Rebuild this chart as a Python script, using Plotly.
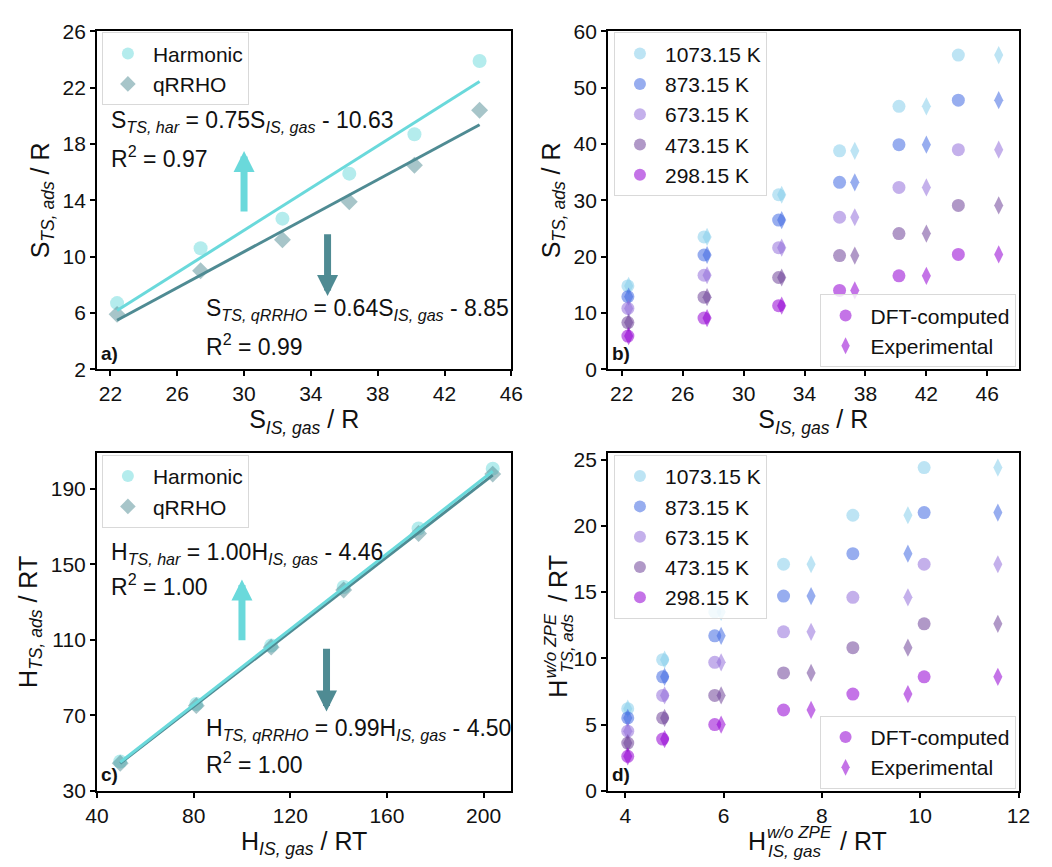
import plotly.graph_objects as go

# ---------------- data ----------------
# panel a
s_is_gas = [22.4, 27.4, 32.3, 36.3, 40.2, 44.1]
s_ts_har = [6.7, 10.6, 12.7, 15.9, 18.7, 23.9]
s_ts_qrrho = [5.9, 9.0, 11.2, 13.9, 16.5, 20.4]
s_har_fit = (0.75, -10.63)
s_qrrho_fit = (0.64, -8.85)

# panel b
temps = ["1073.15 K", "873.15 K", "673.15 K", "473.15 K", "298.15 K"]
b_x_dft = [22.4, 27.4, 32.3, 36.3, 40.2, 44.1]
b_x_exp = [22.45, 27.6, 32.5, 37.3, 42.0, 46.75]
b_y = {
    "1073.15 K": [14.8, 23.5, 31.0, 38.8, 46.7, 55.8],
    "873.15 K": [12.9, 20.3, 26.5, 33.2, 39.9, 47.8],
    "673.15 K": [10.8, 16.7, 21.6, 27.0, 32.3, 39.0],
    "473.15 K": [8.3, 12.8, 16.3, 20.2, 24.1, 29.1],
    "298.15 K": [5.9, 9.1, 11.3, 14.0, 16.6, 20.4],
}

# panel c
h_is_gas = [49.6, 81.1, 112.1, 142.1, 173.1, 203.8]
h_ts_har = [45.5, 76.0, 107.0, 138.0, 169.0, 200.7]
h_ts_qrrho = [44.6, 75.1, 106.1, 136.4, 166.3, 197.8]
h_har_fit = (1.00, -4.46)
h_qrrho_fit = (0.99, -4.50)

# panel d
d_x_dft = [4.05, 4.76, 5.82, 7.22, 8.63, 10.08]
d_x_exp = [4.05, 4.8, 5.95, 7.78, 9.75, 11.58]
d_y = {
    "1073.15 K": [6.2, 9.9, 13.5, 17.1, 20.8, 24.4],
    "873.15 K": [5.5, 8.6, 11.7, 14.7, 17.9, 21.0],
    "673.15 K": [4.5, 7.2, 9.7, 12.0, 14.6, 17.1],
    "473.15 K": [3.6, 5.5, 7.2, 8.9, 10.8, 12.6],
    "298.15 K": [2.6, 3.9, 5.0, 6.1, 7.3, 8.6],
}

# ---------------- styles ----------------
FONT = "Liberation Sans, Arial, sans-serif"
C_HAR = "#6ad9db"
C_QR = "#4f8b93"
T_COL = {
    "1073.15 K": "#87ceeb",
    "873.15 K": "#4169e1",
    "673.15 K": "#9370db",
    "473.15 K": "#6f4499",
    "298.15 K": "#9400d3",
}
MS = 13
TITLE_SIZE = 25

fig = go.Figure()


def fit_line(xs, coef):
    lo, hi = min(xs), max(xs)
    return [lo, hi], [coef[0] * lo + coef[1], coef[0] * hi + coef[1]]


def lin_panel(xa, ya, leg, xs, yh, yq, fh, fq):
    fig.add_trace(go.Scatter(x=xs, y=yh, mode="markers", name="Harmonic",
                             marker=dict(symbol="circle", size=14, color=C_HAR, opacity=0.5),
                             xaxis=xa, yaxis=ya, legend=leg))
    fig.add_trace(go.Scatter(x=xs, y=yq, mode="markers", name="qRRHO",
                             marker=dict(symbol="diamond", size=13, color=C_QR, opacity=0.5),
                             xaxis=xa, yaxis=ya, legend=leg))
    lx, ly = fit_line(xs, fq)
    fig.add_trace(go.Scatter(x=lx, y=ly, mode="lines", line=dict(color=C_QR, width=3),
                             showlegend=False, xaxis=xa, yaxis=ya, hoverinfo="skip"))
    lx, ly = fit_line(xs, fh)
    fig.add_trace(go.Scatter(x=lx, y=ly, mode="lines", line=dict(color=C_HAR, width=3),
                             showlegend=False, xaxis=xa, yaxis=ya, hoverinfo="skip"))


def temp_panel(xa, ya, leg1, leg2, xd, xe, ys):
    for t in temps:
        fig.add_trace(go.Scatter(x=xd, y=ys[t], mode="markers", name=t,
                                 marker=dict(symbol="circle", size=MS, color=T_COL[t], opacity=0.55),
                                 xaxis=xa, yaxis=ya, legend=leg1))
        fig.add_trace(go.Scatter(x=xe, y=ys[t], mode="markers", name=t, showlegend=False,
                                 marker=dict(symbol="diamond-tall", size=MS, color=T_COL[t], opacity=0.55),
                                 xaxis=xa, yaxis=ya))
    fig.add_trace(go.Scatter(x=[None], y=[None], mode="markers", name="DFT-computed",
                             marker=dict(symbol="circle", size=MS, color=T_COL["298.15 K"], opacity=0.55),
                             xaxis=xa, yaxis=ya, legend=leg2))
    fig.add_trace(go.Scatter(x=[None], y=[None], mode="markers", name="Experimental",
                             marker=dict(symbol="diamond-tall", size=MS, color=T_COL["298.15 K"], opacity=0.55),
                             xaxis=xa, yaxis=ya, legend=leg2))


lin_panel("x", "y", "legend", s_is_gas, s_ts_har, s_ts_qrrho, s_har_fit, s_qrrho_fit)
temp_panel("x2", "y2", "legend2", "legend3", b_x_dft, b_x_exp, b_y)
lin_panel("x3", "y3", "legend4", h_is_gas, h_ts_har, h_ts_qrrho, h_har_fit, h_qrrho_fit)
temp_panel("x4", "y4", "legend5", "legend6", d_x_dft, d_x_exp, d_y)

W, H = 1052, 867
dom_x = [[87 / W, 511 / W], [610 / W, 1030 / W]]
dom_y = [[1 - 367 / H, 1 - 20 / H], [1 - 800 / H, 1 - 453 / H]]

axis_common = dict(showline=True, linecolor="black", linewidth=2, mirror=True,
                   ticks="outside", ticklen=5, tickwidth=1.5, tickcolor="black",
                   showgrid=False, zeroline=False,
                   tickfont=dict(family=FONT, size=21, color="#111"),
                   title_font=dict(family=FONT, size=TITLE_SIZE, color="#111"))

fig.update_layout(
    width=W, height=H, margin=dict(l=0, r=0, t=0, b=0),
    paper_bgcolor="white", plot_bgcolor="white",
    font=dict(family=FONT, color="#111"),
    xaxis=dict(domain=dom_x[0], anchor="y", range=[21.2, 46], tickvals=[22, 26, 30, 34, 38, 42, 46],
               title=dict(text="S<sub><i>IS, gas</i></sub> / R", standoff=2), **axis_common),
    yaxis=dict(domain=dom_y[0], anchor="x", range=[2, 26], tickvals=[2, 6, 10, 14, 18, 22, 26],
               title=dict(text="S<sub><i>TS, ads</i></sub> / R", standoff=6), **axis_common),
    xaxis2=dict(domain=dom_x[1], anchor="y2", range=[21.1, 48.05], tickvals=[22, 26, 30, 34, 38, 42, 46],
                title=dict(text="S<sub><i>IS, gas</i></sub> / R", standoff=2), **axis_common),
    yaxis2=dict(domain=dom_y[0], anchor="x2", range=[0, 60], tickvals=[0, 10, 20, 30, 40, 50, 60],
                title=dict(text="S<sub><i>TS, ads</i></sub> / R", standoff=6), **axis_common),
    xaxis3=dict(domain=dom_x[0], anchor="y3", range=[40, 211.5], tickvals=[40, 80, 120, 160, 200],
                title=dict(text="H<sub><i>IS, gas</i></sub> / RT", standoff=2), **axis_common),
    yaxis3=dict(domain=dom_y[1], anchor="x3", range=[30, 209], tickvals=[30, 70, 110, 150, 190],
                title=dict(text="H<sub><i>TS, ads</i></sub> / RT", standoff=6), **axis_common),
    xaxis4=dict(domain=dom_x[1], anchor="y4", range=[3.65, 12], tickvals=[4, 6, 8, 10, 12],
                title=dict(text=""), **axis_common),
    yaxis4=dict(domain=dom_y[1], anchor="x4", range=[0, 25.5], tickvals=[0, 5, 10, 15, 20, 25],
                title=dict(text=""), **axis_common),
)

leg_common = dict(bgcolor="rgba(255,255,255,0.8)", bordercolor="#d9d9d9", borderwidth=1,
                  font=dict(family=FONT, size=21, color="#111"), itemsizing="constant",
                  itemwidth=40, xanchor="left", yanchor="top", tracegroupgap=0)
leg_br = {**leg_common, "xanchor": "right", "yanchor": "bottom"}
fig.update_layout(
    legend=dict(x=92 / W, y=1 - 21 / H, **leg_common),
    legend2=dict(x=616 / W, y=1 - 21 / H, **leg_common),
    legend3=dict(x=1027 / W, y=1 - 365 / H, **leg_br),
    legend4=dict(x=92 / W, y=1 - 455 / H, **leg_common),
    legend5=dict(x=616 / W, y=1 - 455 / H, **leg_common),
    legend6=dict(x=1027 / W, y=1 - 798 / H, **leg_br),
)

ann = []
TF = dict(family=FONT, size=23, color="#111")


def txt(xr, yr, x, y, t):
    ann.append(dict(xref=xr, yref=yr, x=x, y=y, text=t, showarrow=False,
                    xanchor="left", yanchor="middle", font=TF))


def arrow(xr, yr, x0, y0, x1, y1, col):
    ann.append(dict(xref=xr, yref=yr, axref=xr, ayref=yr, x=x1, y=y1, ax=x0, ay=y0,
                    text="", showarrow=True, arrowhead=2, arrowsize=0.6, arrowwidth=7,
                    arrowcolor=col))


# panel a
txt("x", "y", 21.9, 19.6, "S<sub><i>TS, har</i></sub> = 0.75S<sub><i>IS, gas</i></sub> - 10.63")
txt("x", "y", 21.9, 17.1, "R<sup>2</sup> = 0.97")
txt("x", "y", 27.6, 6.25, "S<sub><i>TS, qRRHO</i></sub> = 0.64S<sub><i>IS, gas</i></sub> - 8.85")
txt("x", "y", 27.6, 3.75, "R<sup>2</sup> = 0.99")
arrow("x", "y", 30, 13.1, 30, 17.5, C_HAR)
arrow("x", "y", 35, 11.7, 35, 7.2, C_QR)
# panel c
txt("x3", "y3", 45.0, 156, "H<sub><i>TS, har</i></sub> = 1.00H<sub><i>IS, gas</i></sub> - 4.46")
txt("x3", "y3", 45.0, 139, "R<sup>2</sup> = 1.00")
txt("x3", "y3", 84.2, 62.5, "H<sub><i>TS, qRRHO</i></sub> = 0.99H<sub><i>IS, gas</i></sub> - 4.50")
txt("x3", "y3", 84.2, 44.7, "R<sup>2</sup> = 1.00")
arrow("x3", "y3", 100, 109, 100, 142, C_HAR)
arrow("x3", "y3", 135, 106, 135, 72, C_QR)

# panel labels
for lab, xr, yr in [("a)", "x", "y"), ("b)", "x2", "y2"), ("c)", "x3", "y3"), ("d)", "x4", "y4")]:
    ann.append(dict(xref=xr + " domain", yref=yr + " domain", x=0.004, y=0.01, text="<b>" + lab + "</b>",
                    showarrow=False, xanchor="left", yanchor="bottom",
                    font=dict(family=FONT, size=19, color="#111")))

# panel d axis titles (H with stacked superscript / subscript), pieces placed in paper px
SMALL = 17


def piece(px, py, t, size, angle=0):
    ann.append(dict(xref="paper", yref="paper", x=px / W, y=1 - py / H, text=t,
                    showarrow=False, xanchor="center", yanchor="middle", textangle=angle,
                    font=dict(family=FONT, size=size, color="#111")))


# x title
piece(762, 852, "H", TITLE_SIZE)
piece(806, 843, "<i>w/o ZPE</i>", SMALL)
piece(801, 862, "<i>IS, gas</i>", SMALL)
piece(871, 852, "/ RT", TITLE_SIZE)
# y title
piece(558, 695, "H", TITLE_SIZE, -90)
piece(551, 651, "<i>w/o ZPE</i>", SMALL, -90)
piece(569, 649, "<i>TS, ads</i>", SMALL, -90)
piece(558, 582, "/ RT", TITLE_SIZE, -90)

fig.update_layout(annotations=ann)
fig.write_html("out.html")
